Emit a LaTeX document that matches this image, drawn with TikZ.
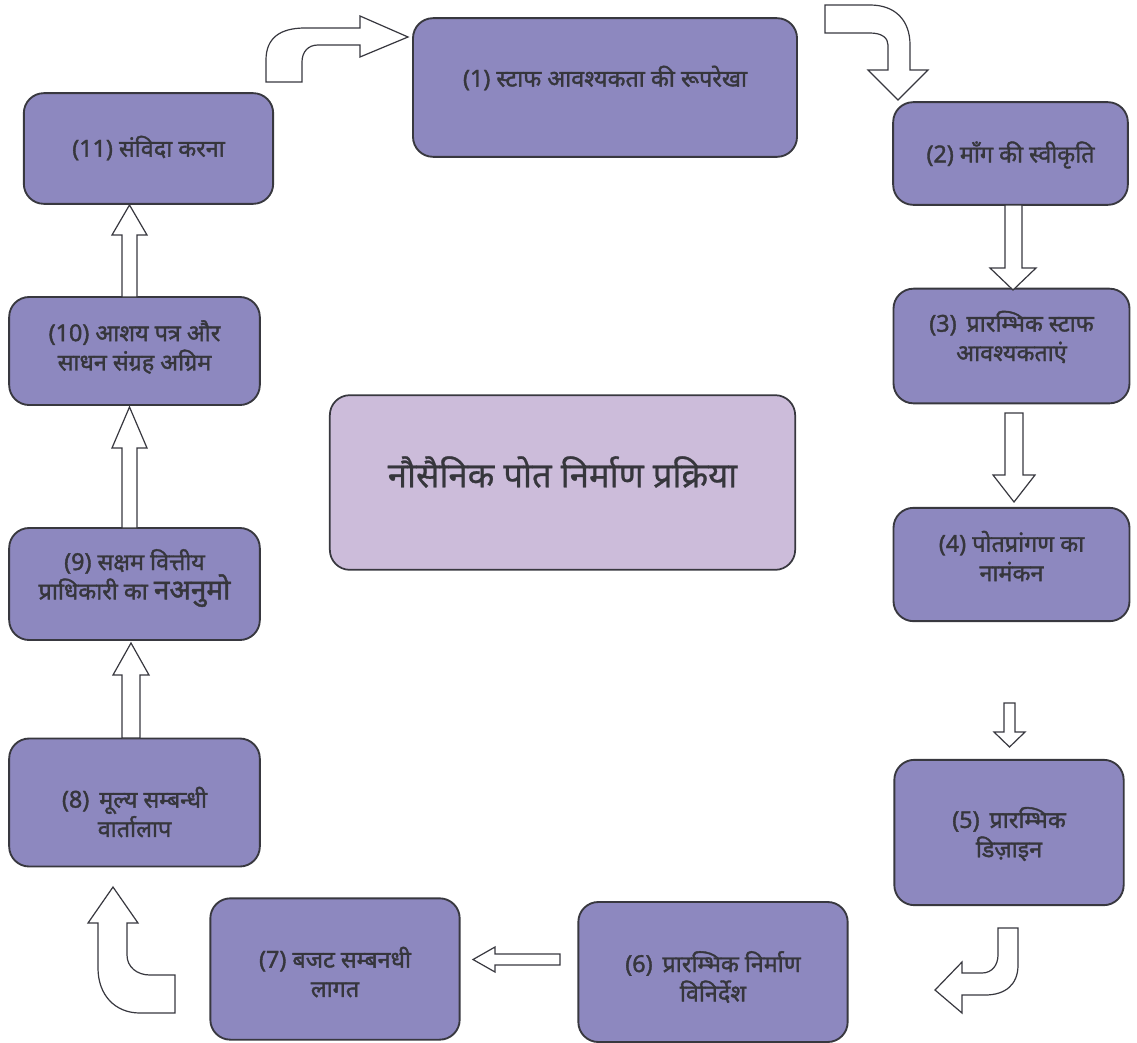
\documentclass[tikz,border=0pt]{standalone}
\usepackage{fontspec}
\newfontfamily\dev[Script=Devanagari, FakeBold=0.7]{Noto Sans}
\newfontfamily\devb[Script=Devanagari, FakeBold=1.6]{Noto Sans}
\definecolor{boxfill}{HTML}{8D88BF}
\definecolor{midfill}{HTML}{CCBCDA}
\definecolor{edge}{HTML}{38383F}
\definecolor{txt}{HTML}{36363C}
\tikzset{
  box/.style={draw=edge, line width=1.4pt, fill=boxfill, rectangle, rounded corners=15pt, inner sep=0pt},
  midbox/.style={draw=edge, line width=1.3pt, fill=midfill, rectangle, rounded corners=15pt, inner sep=0pt},
  lbl/.style={text=txt, align=center, font=\devb\fontsize{17.5}{22}\selectfont},
  title/.style={text=txt, align=center, font=\dev\fontsize{26}{30}\selectfont},
  blk/.style={draw=edge, fill=white, line width=0.9pt, line join=miter}
}
\begin{document}
\begin{tikzpicture}[x=0.75pt,y=-0.75pt]
\useasboundingbox[fill=white] (0,0) rectangle (1137,1042);
% boxes
\node[box, minimum width=288pt, minimum height=104pt] (b1) at (605,87.5) {};
\node[box, minimum width=176pt, minimum height=77pt] (b2) at (1010.5,153.5) {};
\node[box, minimum width=177pt, minimum height=86pt] (b3) at (1011.5,346) {};
\node[box, minimum width=177pt, minimum height=85pt] (b4) at (1011.5,564.5) {};
\node[box, minimum width=172pt, minimum height=109pt] (b5) at (1009,832.5) {};
\node[box, minimum width=202pt, minimum height=105pt] (b6) at (713,972) {};
\node[box, minimum width=187pt, minimum height=106pt] (b7) at (335,969) {};
\node[box, minimum width=188pt, minimum height=96pt] (b8) at (134.5,802.5) {};
\node[box, minimum width=188pt, minimum height=84pt] (b9) at (134.5,584) {};
\node[box, minimum width=188pt, minimum height=81pt] (b10) at (134.5,351) {};
\node[box, minimum width=187pt, minimum height=83pt] (b11) at (148.5,148.5) {};
\node[midbox, minimum width=349pt, minimum height=131pt] (mid) at (562.5,482.5) {};
% labels
\node[lbl] (t1) at (605,78) {(1) स्टाफ आवश्यकता की रूपरेखा};
\node[lbl] (t2) at (1010.5,155) {(2) माँग की स्वीकृति};
\node[lbl] (t3) at (1011.5,337) {(3)\, प्रारम्भिक स्टाफ\\आवश्यकताएं};
\node[lbl] (t4) at (1011.5,556) {(4) पोतप्रांगण का\\नामंकन};
\node[lbl] (t5) at (1009,834) {(5)\, प्रारम्भिक\\डिज़ाइन};
\node[lbl] (t6) at (713,977) {(6)\, प्रारम्भिक निर्माण\\विनिर्देश};
\node[lbl] (t7) at (335,972) {(7) बजट सम्बनधी\\लागत};
\node[lbl] (t8) at (134.5,812) {(8)\, मूल्य सम्बन्धी\\वार्तालाप};
\node[lbl] (t9) at (134.5,578) {(9) सक्षम वित्तीय\\प्राधिकारी का {\fontsize{21}{22}\selectfont नअनुमो}};
\node[lbl] (t10) at (134.5,347) {(10) आशय पत्र और\\साधन संग्रह अग्रिम};
\node[lbl] (t11) at (148.5,148) {(11) संविदा करना};
\node[title] (tm) at (562.5,472) {नौसैनिक पोत निर्माण प्रक्रिया};
% straight block arrows
\draw[blk] (1005,205) -- (1005,268) -- (990,268) -- (1013,290) -- (1036,268) -- (1022,268) -- (1022,205) -- cycle;
\draw[blk] (1005,413) -- (1005,475) -- (993,475) -- (1014,502) -- (1035,475) -- (1023,475) -- (1023,413) -- cycle;
\draw[blk] (1004,703) -- (1004,732) -- (994,732) -- (1009.5,747) -- (1025,732) -- (1015,732) -- (1015,703) -- cycle;
\draw[blk] (560,954) -- (495,954) -- (495,947) -- (473,959.5) -- (495,972) -- (495,965) -- (560,965) -- cycle;
\draw[blk] (122,738) -- (122,675) -- (113,675) -- (131,643) -- (149,675) -- (140,675) -- (140,738) -- cycle;
\draw[blk] (122,528) -- (122,448) -- (112,448) -- (129.5,407) -- (147,448) -- (137,448) -- (137,528) -- cycle;
\draw[blk] (122,297) -- (122,235) -- (112,235) -- (129.5,205) -- (147,235) -- (137,235) -- (137,297) -- cycle;
% curved block arrows
\draw[blk] (266,82) -- (266,60) .. controls (266,38) and (280,28) .. (305,28) -- (360,28) -- (360,16) -- (408,37) -- (360,57) -- (360,45) -- (318,45) .. controls (308,45) and (302,52) .. (302,62) -- (302,82) -- cycle;
\draw[blk] (825,5) -- (870,5) .. controls (895,5) and (910,20) .. (910,45) -- (910,70) -- (928,70) -- (898,100) -- (868,70) -- (888,70) -- (888,45) .. controls (888,38) and (882,33) .. (870,33) -- (825,33) -- cycle;
\draw[blk] (998,928) -- (1018,928) -- (1018,965) .. controls (1018,985) and (1005,995) .. (985,995) -- (962,995) -- (962,1013) -- (935,990) -- (962,962) -- (962,973) -- (982,973) .. controls (992,973) and (998,965) .. (998,955) -- cycle;
\draw[blk] (113,887) -- (138,923) -- (127,923) -- (127,955) .. controls (127,967) and (137,975) .. (150,975) -- (175,975) -- (175,1013) -- (140,1013) .. controls (115,1013) and (98,995) .. (98,968) -- (98,923) -- (88,923) -- cycle;
\end{tikzpicture}
\end{document}
